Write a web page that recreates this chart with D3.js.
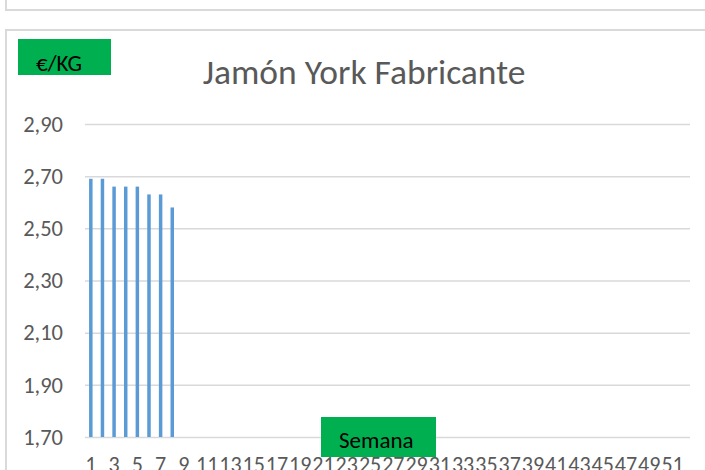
<!DOCTYPE html>
<html>
<head>
<meta charset="utf-8">
<script src="https://cdn.jsdelivr.net/npm/d3@7"></script>
<style>
  body { margin: 0; background: #fff; }
  svg { display: block; font-family: Carlito, Lato, sans-serif; }
</style>
</head>
<body>
<div id="chart"></div>
<script>
// weeks 1..52, only the first 8 have a price
var semanas = d3.range(1, 53);
var precios = [2.69, 2.69, 2.66, 2.66, 2.66, 2.63, 2.63, 2.58];
var yTicks = [1.70, 1.90, 2.10, 2.30, 2.50, 2.70, 2.90];

var W = 705, H = 470;
var margin = {top: 124, left: 85},
    width = 690 - margin.left,
    height = 437 - margin.top;

var svg = d3.select("#chart")
  .append("svg")
    .attr("width", W)
    .attr("height", H);

// frame of the chart above (only its bottom is visible)
svg.append("rect")
  .attr("x", 6).attr("y", -20)
  .attr("width", 720).attr("height", 30)
  .attr("fill", "none")
  .attr("stroke", "#d9d9d9")
  .attr("stroke-width", 2);

// this chart's frame
svg.append("rect")
  .attr("x", 6).attr("y", 30)
  .attr("width", 720).attr("height", 480)
  .attr("fill", "none")
  .attr("stroke", "#d9d9d9")
  .attr("stroke-width", 2);

var g = svg.append("g")
  .attr("transform", "translate(" + margin.left + "," + margin.top + ")");

var x = d3.scaleBand()
  .domain(semanas)
  .range([0, width])
  .paddingInner(0.7)
  .paddingOuter(0.35);

var y = d3.scaleLinear()
  .domain([1.70, 2.90])
  .range([height, 0]);

var fmt = function(d) { return d3.format(".2f")(d).replace(".", ","); };

// gridlines + y labels
var yAxis = g.append("g")
  .call(d3.axisLeft(y).tickValues(yTicks).tickSize(-width).tickFormat(fmt).tickPadding(22));
yAxis.select(".domain").remove();
yAxis.selectAll("line").attr("stroke", "#d9d9d9").attr("stroke-width", 1.5);
yAxis.selectAll("text")
  .attr("fill", "#595959")
  .style("font-size", "22.5px")
  .style("font-family", "Carlito, Lato, sans-serif");

// bars
g.selectAll("rect.bar")
  .data(precios)
  .enter()
  .append("rect")
    .attr("class", "bar")
    .attr("x", function(d, i) { return x(semanas[i]); })
    .attr("y", function(d) { return y(d); })
    .attr("width", x.bandwidth())
    .attr("height", function(d) { return height - y(d); })
    .attr("fill", "#5B9BD5");

// x labels, every second week
var xAxis = g.append("g")
  .attr("transform", "translate(0," + height + ")")
  .call(d3.axisBottom(x)
    .tickValues(semanas.filter(function(d) { return d % 2 == 1; }))
    .tickSize(0).tickPadding(19));
xAxis.select(".domain").remove();
xAxis.selectAll("text")
  .attr("fill", "#595959")
  .style("font-size", "22px")
  .style("font-family", "Carlito, Lato, sans-serif");

// title
svg.append("text")
  .attr("x", 364)
  .attr("y", 84)
  .attr("text-anchor", "middle")
  .attr("fill", "#595959")
  .style("font-size", "35.5px")
  .text("Jamón York Fabricante");

// green label boxes
svg.append("rect")
  .attr("x", 18).attr("y", 39)
  .attr("width", 93).attr("height", 36)
  .attr("fill", "#00B050");
svg.append("text")
  .attr("x", 36).attr("y", 71)
  .attr("fill", "#000")
  .style("font-size", "23px")
  .text("€/KG");

svg.append("rect")
  .attr("x", 321).attr("y", 417)
  .attr("width", 115).attr("height", 40)
  .attr("fill", "#00B050");
svg.append("text")
  .attr("x", 339).attr("y", 448)
  .attr("fill", "#000")
  .style("font-size", "23px")
  .text("Semana");
</script>
</body>
</html>
